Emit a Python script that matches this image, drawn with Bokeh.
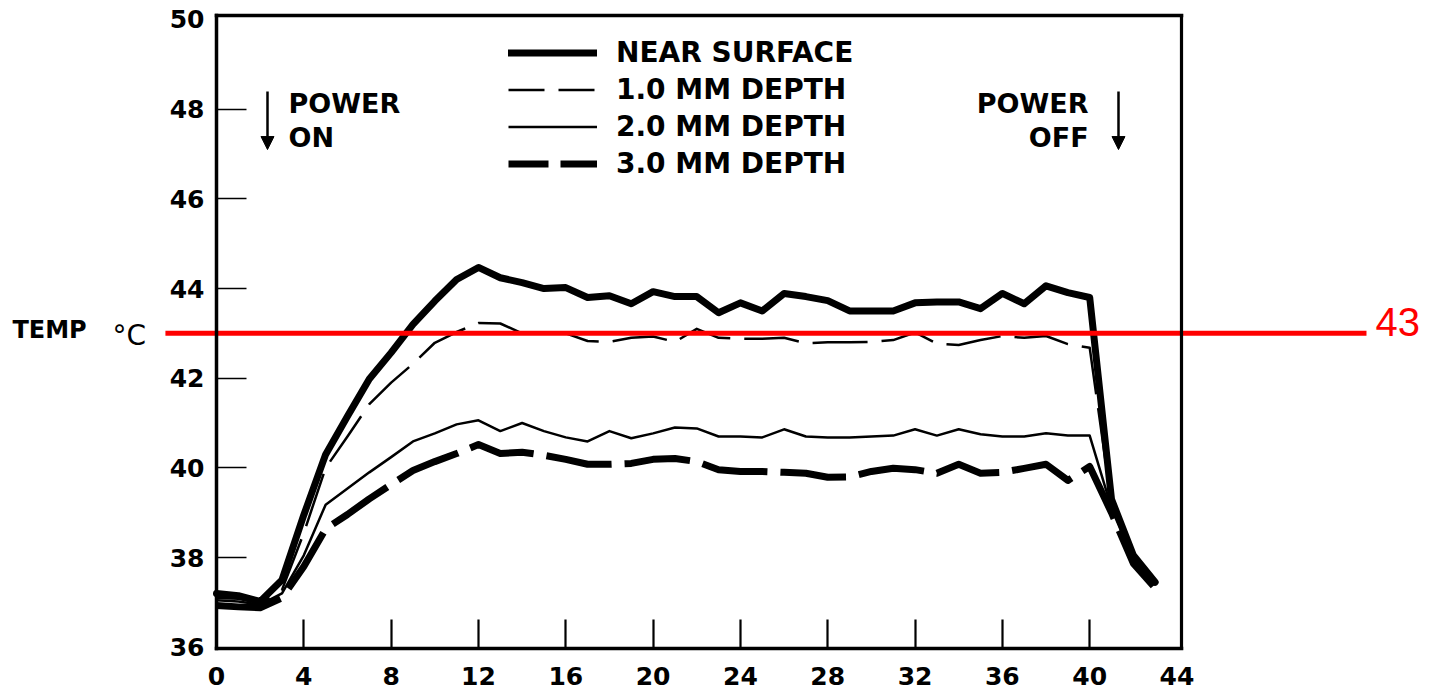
from bokeh.plotting import figure
from bokeh.models import (ColumnDataSource, LinearAxis, FixedTicker, Range1d, Label,
                          Arrow, NormalHead, Legend, LegendItem)
from bokeh.embed import file_html
from bokeh.resources import INLINE

# ---------------- data ----------------
minutes = list(range(44))
near_surface = [37.2, 37.15, 37.02, 37.5, 38.95, 40.3, 41.15, 41.98, 42.57, 43.2, 43.72, 44.2, 44.47,
                44.24, 44.13, 44.0, 44.02, 43.8, 43.84, 43.66, 43.93, 43.82, 43.82, 43.46, 43.68,
                43.5, 43.89, 43.82, 43.73, 43.5, 43.5, 43.5, 43.68, 43.7, 43.7, 43.55, 43.89,
                43.66, 44.06, 43.91, 43.8, 39.3, 38.05, 37.45]
depth_1mm = [37.1, 37.08, 36.98, 37.28, 38.55, 40.0, 40.7, 41.42, 41.9, 42.32, 42.79, 43.03, 43.23,
             43.22, 43.0, 43.0, 43.0, 42.83, 42.81, 42.9, 42.93, 42.81, 43.1, 42.9, 42.88,
             42.88, 42.9, 42.78, 42.8, 42.8, 42.81, 42.85, 43.02, 42.77, 42.74, 42.85, 42.94,
             42.9, 42.94, 42.76, 42.68, 39.2, 38.0, 37.42]
depth_2mm = [37.05, 37.02, 36.95, 37.2, 38.05, 39.18, 39.54, 39.9, 40.24, 40.59, 40.77, 40.97, 41.06,
             40.82, 41.0, 40.82, 40.68, 40.59, 40.82, 40.66, 40.77, 40.9, 40.88, 40.7, 40.7,
             40.68, 40.86, 40.7, 40.68, 40.68, 40.7, 40.72, 40.86, 40.72, 40.86, 40.75, 40.7,
             40.7, 40.77, 40.72, 40.72, 39.1, 37.95, 37.4]
depth_3mm = [36.93, 36.9, 36.88, 37.1, 37.8, 38.64, 38.96, 39.31, 39.63, 39.94, 40.14, 40.32, 40.52,
             40.32, 40.35, 40.28, 40.19, 40.08, 40.08, 40.1, 40.19, 40.21, 40.14, 39.96, 39.92,
             39.92, 39.9, 39.88, 39.79, 39.8, 39.92, 39.99, 39.96, 39.88, 40.08, 39.88, 39.9,
             39.99, 40.08, 39.72, 40.03, 39.0, 37.87, 37.32]
x_ticks = [0, 4, 8, 12, 16, 20, 24, 28, 32, 36, 40, 44]
y_ticks = [36, 38, 40, 42, 44, 46, 48, 50]
legend_labels = ["NEAR SURFACE", "1.0 MM DEPTH", "2.0 MM DEPTH", "3.0 MM DEPTH"]
threshold = 43
threshold_label = "43"

# ---------------- layout constants ----------------
FONT = "DejaVu Sans"
W, H = 1433, 694
X0, X1 = -9.895, 55.75
Y0, Y1 = 34.946, 50.423
X_FRAME_R = 44.2
Y_FRAME_T = 50.088
Y_FRAME_B = 35.971
THRESH_X = [-2.34, 52.68]
NAN = float("nan")

src = ColumnDataSource(dict(minutes=minutes, near_surface=near_surface, depth_1mm=depth_1mm,
                            depth_2mm=depth_2mm, depth_3mm=depth_3mm))

p = figure(width=W, height=H, x_range=Range1d(X0, X1), y_range=Range1d(Y0, Y1),
           output_backend="svg", toolbar_location=None, x_axis_location=None,
           y_axis_location=None, min_border=0, outline_line_color=None)
p.xgrid.visible = False
p.ygrid.visible = False
p.background_fill_color = "white"
p.border_fill_color = "white"

lab = dict(major_label_text_font=FONT, major_label_text_font_style="bold",
           major_label_text_font_size="25px", major_label_text_color="black",
           minor_tick_in=0, minor_tick_out=0, major_tick_out=0)

# left frame with ticks
ax_l = LinearAxis(fixed_location=0, bounds=(Y_FRAME_B, Y_FRAME_T),
                  ticker=FixedTicker(ticks=y_ticks[1:-1], minor_ticks=[]),
                  major_tick_in=30, major_tick_line_width=1.6, major_tick_line_color="black",
                  axis_line_width=3.5, axis_line_color="black", axis_line_cap="square",
                  major_label_standoff=12, **lab)
p.add_layout(ax_l, "left")
ax_l2 = LinearAxis(fixed_location=0, ticker=FixedTicker(ticks=[y_ticks[0], y_ticks[-1]], minor_ticks=[]),
                   major_tick_in=0, axis_line_color=None, major_tick_line_color=None,
                   major_label_standoff=12, **lab)
p.add_layout(ax_l2, "left")

# bottom frame with ticks
ax_b = LinearAxis(fixed_location=Y_FRAME_B, bounds=(0, X_FRAME_R),
                  ticker=FixedTicker(ticks=x_ticks[1:-1], minor_ticks=[]),
                  major_tick_in=29, major_tick_line_width=2.2, major_tick_line_color="black",
                  axis_line_width=3.5, axis_line_color="black", axis_line_cap="square",
                  major_label_standoff=18, **lab)
p.add_layout(ax_b, "below")
ax_b2 = LinearAxis(fixed_location=Y_FRAME_B, ticker=FixedTicker(ticks=[x_ticks[0], x_ticks[-1]], minor_ticks=[]),
                   major_tick_in=0, axis_line_color=None, major_tick_line_color=None,
                   major_label_standoff=18, **lab)
p.add_layout(ax_b2, "below")

# top and right frame lines
ax_t = LinearAxis(fixed_location=Y_FRAME_T, bounds=(0, X_FRAME_R), ticker=FixedTicker(ticks=[], minor_ticks=[]),
                  major_tick_in=0, major_tick_out=0, minor_tick_in=0, minor_tick_out=0,
                  axis_line_width=3.5, axis_line_color="black", axis_line_cap="square")
p.add_layout(ax_t, "above")
ax_r = LinearAxis(fixed_location=X_FRAME_R, bounds=(Y_FRAME_B, Y_FRAME_T), ticker=FixedTicker(ticks=[], minor_ticks=[]),
                  major_tick_in=0, major_tick_out=0, minor_tick_in=0, minor_tick_out=0,
                  axis_line_width=3.2, axis_line_color="black", axis_line_cap="square")
p.add_layout(ax_r, "right")

# curves
r_ns = p.line("minutes", "near_surface", source=src, line_color="black", line_width=7,
              line_join="round", line_cap="round")
r_1 = p.line("minutes", "depth_1mm", source=src, line_color="black", line_width=2.5,
             line_dash="55 14", line_join="round")
r_2 = p.line("minutes", "depth_2mm", source=src, line_color="black", line_width=2.5,
             line_join="round")
r_3 = p.line("minutes", "depth_3mm", source=src, line_color="black", line_width=7,
             line_dash="66 13", line_join="round")

# legend swatches for the dashed styles (shorter dashes, as in the key); they draw nothing
k_1 = p.line(x=[NAN], y=[NAN], line_color="black", line_width=2.5, line_dash="36 14")
k_3 = p.line(x=[NAN], y=[NAN], line_color="black", line_width=7, line_dash="40 12")

legend = Legend(items=[LegendItem(label=legend_labels[0], renderers=[r_ns]),
                       LegendItem(label=legend_labels[1], renderers=[k_1]),
                       LegendItem(label=legend_labels[2], renderers=[r_2]),
                       LegendItem(label=legend_labels[3], renderers=[k_3])],
                location=(508, 514.5), orientation="vertical", glyph_width=89, glyph_height=31,
                label_height=31, spacing=4, padding=0, margin=0, label_standoff=19,
                border_line_color=None, background_fill_alpha=0,
                label_text_font=FONT, label_text_font_style="bold", label_text_font_size="28px",
                label_text_color="black")
p.add_layout(legend, "center")

txt = dict(text_font=FONT, text_font_style="bold", text_font_size="27px", text_color="black",
           text_baseline="alphabetic")
p.add_layout(Label(x=3.30, y=48.132, text="POWER", text_align="left", **txt))
p.add_layout(Label(x=3.30, y=47.367, text="ON", text_align="left", **txt))
p.add_layout(Label(x=39.95, y=48.119, text="POWER", text_align="right", **txt))
p.add_layout(Label(x=39.95, y=47.360, text="OFF", text_align="right", **txt))

for xa in (2.336, 41.32):
    p.add_layout(Arrow(end=NormalHead(size=13, fill_color="black", line_color="black", line_width=1),
                       x_start=xa, y_start=48.393, x_end=xa, y_end=47.099,
                       line_color="black", line_width=2.5))

p.add_layout(Label(x=-9.35, y=43.076, text="TEMP", text_font=FONT, text_font_style="bold",
                   text_font_size="24px", text_color="black", text_baseline="alphabetic"))
p.add_layout(Label(x=-4.764, y=42.959, text="°C", text_font=FONT, text_font_style="normal",
                   text_font_size="28px", text_color="black", text_baseline="alphabetic"))

# threshold line
p.line(x=THRESH_X, y=[threshold, threshold], line_color="#ff0000", line_width=5)
p.add_layout(Label(x=53.09, y=43.244, text=threshold_label, text_font="Liberation Sans",
                   text_font_size="40px", text_color="#ff0000", text_baseline="alphabetic"))

open("out.html", "w").write(file_html(p, INLINE))
